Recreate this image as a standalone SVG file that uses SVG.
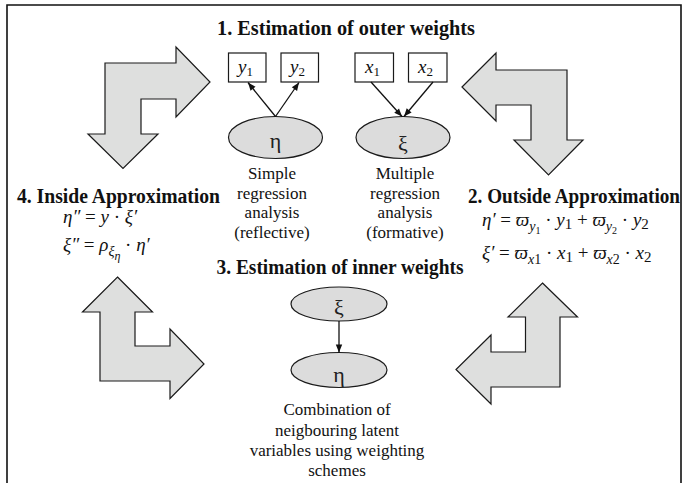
<svg xmlns="http://www.w3.org/2000/svg" width="686" height="483" viewBox="0 0 686 483">
<defs>
<marker id="ah" viewBox="0 0 10 10" refX="10" refY="5" markerWidth="9" markerHeight="8" markerUnits="userSpaceOnUse" orient="auto">
<path d="M0,1 L10,5 L0,9 Z" fill="#111"/>
</marker>
<style>
.bigarrow{fill:#dedfde;stroke:#1a1a1a;stroke-width:1.2;stroke-linejoin:miter}
.lv{fill:#dcdcdc;stroke:#1a1a1a;stroke-width:1.2}
.box{fill:#fff;stroke:#1a1a1a;stroke-width:1.2}
.title{font-family:"Liberation Serif","Times New Roman",serif;font-weight:bold;font-size:20px;fill:#111}
.cap{font-family:"Liberation Serif","Times New Roman",serif;font-size:17px;fill:#111;text-anchor:middle}
.greek{font-family:"Liberation Serif","DejaVu Serif",serif;font-size:22px;fill:#222;text-anchor:middle}
.math{font-family:"Liberation Serif","DejaVu Serif",serif;font-style:italic;font-size:19px;fill:#111}
.up{font-style:normal}
.conn{stroke:#111;stroke-width:1.3;fill:none;marker-end:url(#ah)}
.frame{stroke:#111;stroke-width:1.6;fill:none}
</style>
</defs>
<rect width="686" height="483" fill="#fff"/>
<path class="frame" d="M7,483 V5 H681 V483"/>

<g id="arrow-top-left"><polygon class="bigarrow" points="105,63 176,63 176,47 210,82 176,117 176,99 141,99 141,134 158,134 123,168.5 88,134 105,134"/></g>
<g id="arrow-top-right"><polygon class="bigarrow" points="462,87 496,53 496,70 567,70 567,140 583,140 548.5,175 514,140 531,140 531,105 496,105 496,121"/></g>
<g id="arrow-bottom-left"><polygon class="bigarrow" points="117.5,277 152.5,312 135,312 135,346 170,346 170,329 204,364 170,398.5 170,381 100,381 100,312 82.5,312"/></g>
<g id="arrow-bottom-right"><polygon class="bigarrow" points="542.5,283 577.5,317 560,317 560,387 491,387 491,404 456,369.5 491,335 491,352 525.5,352 525.5,317 508,317"/></g>

<g id="step1">
<text class="title" x="346" y="35" text-anchor="middle" textLength="258" lengthAdjust="spacingAndGlyphs">1. Estimation of outer weights</text>
</g>
<g id="y1"><rect class="box" x="228.5" y="53" width="37.5" height="29"/><text class="math" x="238" y="73">y<tspan class="up" font-size="13" dy="3">1</tspan></text></g>
<g id="y2"><rect class="box" x="281" y="53" width="37.5" height="29"/><text class="math" x="290" y="73">y<tspan class="up" font-size="13" dy="3">2</tspan></text></g>
<g id="x1"><rect class="box" x="355" y="53" width="38.5" height="29"/><text class="math" x="365" y="73">x<tspan class="up" font-size="13" dy="3">1</tspan></text></g>
<g id="x2"><rect class="box" x="408.5" y="53" width="38.5" height="29"/><text class="math" x="418" y="73">x<tspan class="up" font-size="13" dy="3">2</tspan></text></g>
<g id="eta-top"><ellipse class="lv" cx="275.5" cy="137.5" rx="47" ry="21"/><text class="greek" x="275.5" y="148">η</text></g>
<g id="xi-top"><ellipse class="lv" cx="403" cy="137.5" rx="47" ry="21"/><text class="greek" x="403" y="151">ξ</text></g>
<g id="cap-simple">
<text class="cap" x="272" y="179">Simple</text>
<text class="cap" x="272" y="198.5">regression</text>
<text class="cap" x="272" y="218">analysis</text>
<text class="cap" x="272" y="237.5">(reflective)</text>
</g>
<g id="cap-multiple">
<text class="cap" x="405" y="179">Multiple</text>
<text class="cap" x="405" y="198.5">regression</text>
<text class="cap" x="405" y="218">analysis</text>
<text class="cap" x="405" y="237.5">(formative)</text>
</g>

<g id="step2">
<text class="title" x="468" y="203" textLength="212" lengthAdjust="spacingAndGlyphs">2. Outside Approximation</text>
<text class="math" x="482" y="226">η′ <tspan class="up">=</tspan> ϖ<tspan font-size="14" dy="5">y</tspan><tspan class="up" font-size="10" dy="3">1</tspan><tspan class="up" dy="-8"> · </tspan>y<tspan class="up" font-size="15" dy="3">1</tspan><tspan class="up" dy="-3"> + </tspan>ϖ<tspan font-size="14" dy="5">y</tspan><tspan class="up" font-size="10" dy="3">2</tspan><tspan class="up" dy="-8"> · </tspan>y<tspan class="up" font-size="15" dy="3">2</tspan></text>
<text class="math" x="482" y="259">ξ′ <tspan class="up">=</tspan> ϖ<tspan font-size="14" dy="5">x</tspan><tspan class="up" font-size="14">1</tspan><tspan class="up" dy="-5"> · </tspan>x<tspan class="up" font-size="15" dy="3">1</tspan><tspan class="up" dy="-3"> + </tspan>ϖ<tspan font-size="14" dy="5">x</tspan><tspan class="up" font-size="14">2</tspan><tspan class="up" dy="-5"> · </tspan>x<tspan class="up" font-size="15" dy="3">2</tspan></text>
</g>

<g id="step3">
<text class="title" x="340" y="274" text-anchor="middle" textLength="247" lengthAdjust="spacingAndGlyphs">3. Estimation of inner weights</text>
</g>
<g id="xi-bottom"><ellipse class="lv" cx="339" cy="304" rx="48" ry="17"/><text class="greek" x="339" y="315">ξ</text></g>
<g id="eta-bottom"><ellipse class="lv" cx="339" cy="370" rx="48" ry="17.5"/><text class="greek" x="339" y="382">η</text></g>
<g id="cap-combination">
<text class="cap" x="337" y="415">Combination of</text>
<text class="cap" x="337" y="435.5">neigbouring latent</text>
<text class="cap" x="337" y="456">variables using weighting</text>
<text class="cap" x="337" y="476">schemes</text>
</g>

<g id="step4">
<text class="title" x="17" y="203" textLength="203" lengthAdjust="spacingAndGlyphs">4. Inside Approximation</text>
<text class="math" x="63" y="223">η″ <tspan class="up">=</tspan> y<tspan class="up"> · </tspan>ξ′</text>
<text class="math" x="63" y="251">ξ″ <tspan class="up">=</tspan> ρ<tspan font-size="14" dy="5">ξ</tspan><tspan font-size="12" dy="4">η</tspan><tspan class="up" dy="-9"> · </tspan>η′</text>
</g>

<g id="connectors">
<line class="conn" x1="275.5" y1="116.5" x2="248" y2="82.5"/>
<line class="conn" x1="275.5" y1="116.5" x2="299" y2="82.5"/>
<line class="conn" x1="371" y1="82" x2="402" y2="116.5"/>
<line class="conn" x1="433" y1="82" x2="404" y2="116.5"/>
<line class="conn" x1="339" y1="321" x2="339" y2="352.5"/>
</g>
</svg>
